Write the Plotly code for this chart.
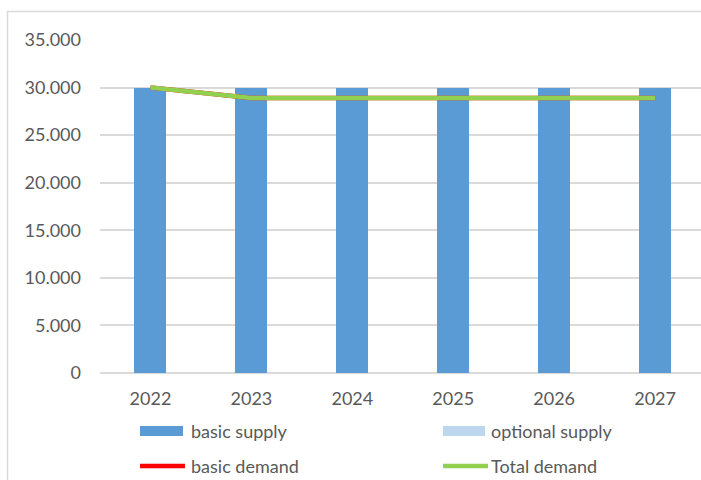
import plotly.graph_objects as go

# Data
years = ["2022", "2023", "2024", "2025", "2026", "2027"]
basic_supply = [30000, 30000, 30000, 30000, 30000, 30000]
optional_supply = [0, 0, 0, 0, 0, 0]
basic_demand = [30000, 28900, 28900, 28900, 28900, 28900]
total_demand = [30000, 28900, 28900, 28900, 28900, 28900]
y_ticks = [0, 5000, 10000, 15000, 20000, 25000, 30000, 35000]
y_tick_labels = ["0", "5.000", "10.000", "15.000", "20.000", "25.000", "30.000", "35.000"]

BLUE = "#5B9BD5"
LIGHT_BLUE = "#BDD7EE"
RED = "#FF0000"
GREEN = "#92D050"
TEXT = "#595959"
GRID = "#DADADA"
FONT = "Lato, Calibri, sans-serif"

W, H = 701, 480
ML, MR, MT, MB = 100, 0, 40, 107
PW, PH = W - ML - MR, H - MT - MB


def px(x):
    return (x - ML) / PW


def py(y):
    return (H - MB - y) / PH


fig = go.Figure()
fig.add_trace(go.Bar(x=years, y=basic_supply, name="basic supply",
                     marker=dict(color=BLUE, line=dict(width=0))))
fig.add_trace(go.Bar(x=years, y=optional_supply, name="optional supply",
                     marker=dict(color=LIGHT_BLUE, line=dict(width=0))))
fig.add_trace(go.Scatter(x=years, y=basic_demand, name="basic demand", mode="lines",
                         line=dict(color=RED, width=4.5)))
fig.add_trace(go.Scatter(x=years, y=total_demand, name="Total demand", mode="lines",
                         line=dict(color=GREEN, width=4.5)))

shapes = [
    # outer chart frame
    dict(type="rect", xref="paper", yref="paper", x0=px(7.5), y0=py(560), x1=px(760), y1=py(11.5),
         line=dict(color=GRID, width=1.5), fillcolor="rgba(0,0,0,0)", layer="below"),
    # legend swatches
    dict(type="rect", xref="paper", yref="paper", x0=px(140), x1=px(183), y0=py(436), y1=py(426),
         line=dict(width=0), fillcolor=BLUE),
    dict(type="rect", xref="paper", yref="paper", x0=px(443), x1=px(485), y0=py(436), y1=py(426),
         line=dict(width=0), fillcolor=LIGHT_BLUE),
    dict(type="line", xref="paper", yref="paper", x0=px(140), x1=px(185), y0=py(466), y1=py(466),
         line=dict(color=RED, width=4.5)),
    dict(type="line", xref="paper", yref="paper", x0=px(443), x1=px(488), y0=py(466), y1=py(466),
         line=dict(color=GREEN, width=4.5)),
]

legend_items = [("basic supply", 189, 431), ("optional supply", 489, 431),
                ("basic demand", 189, 466), ("Total demand", 489, 466)]
annotations = [
    dict(text=t, xref="paper", yref="paper", x=px(x), y=py(y), xanchor="left", yanchor="middle",
         showarrow=False, font=dict(family=FONT, size=18, color=TEXT))
    for t, x, y in legend_items
]

fig.update_layout(
    width=W, height=H,
    margin=dict(l=ML, r=MR, t=MT, b=MB),
    paper_bgcolor="white", plot_bgcolor="white",
    barmode="stack", bargap=0.683,
    showlegend=False,
    font=dict(family=FONT, size=18, color=TEXT),
    shapes=shapes, annotations=annotations,
)
fig.update_xaxes(type="category", range=[-0.5, 5.455], showgrid=False, showline=False,
                 ticks="", tickfont=dict(size=18, color=TEXT), ticklabelstandoff=13)
fig.update_yaxes(range=[0, 35000], tickvals=y_ticks, ticktext=y_tick_labels,
                 showgrid=True, gridcolor=GRID, gridwidth=2, zeroline=True, zerolinecolor=GRID,
                 zerolinewidth=2, showline=False, ticks="", ticklabelstandoff=18,
                 tickfont=dict(size=18, color=TEXT))

fig.write_html("out.html")
